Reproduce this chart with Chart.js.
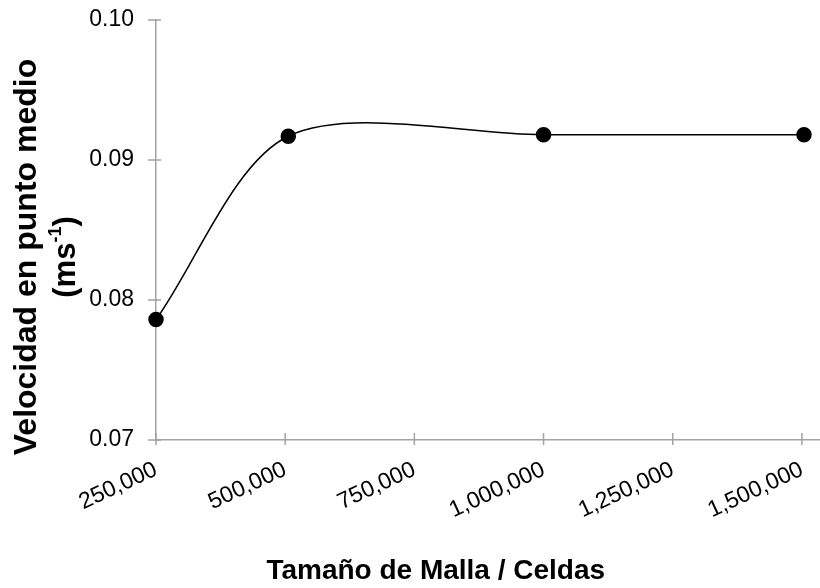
<!DOCTYPE html>
<html>
<head>
<meta charset="utf-8">
<script src="https://cdn.jsdelivr.net/npm/chart.js@4/dist/chart.umd.min.js"></script>
<style>
  html, body { margin: 0; padding: 0; background: #ffffff; overflow: hidden; }
  #wrap { width: 820px; height: 588px; overflow: hidden; }
  #chart { display: block; }
</style>
</head>
<body>
<div id="wrap"><canvas id="chart" width="828" height="588"></canvas></div>
<script>
// Mesh independence study: mid-point velocity versus mesh size
const meshSizes   = [250000, 506000, 1000000, 1504000];
const midVelocity = [0.0786, 0.0917, 0.0918, 0.0918];

const xTickValues = [250000, 500000, 750000, 1000000, 1250000, 1500000];
const yTickValues = [0.07, 0.08, 0.09, 0.10];

const xRange = [250000, 1534000];
const yRange = [0.07, 0.10];

const xTitle = 'Tamaño de Malla / Celdas';
const yTitleLine1 = 'Velocidad en punto medio';
const yTitleLine2 = ['(ms', '-1', ')'];

const FONT = '"Liberation Sans", Arial, Helvetica, sans-serif';
const AXIS_COLOR = '#a3a3a3';

// Tick marks that cross the axis lines, plus the two axis titles
const axisDecor = {
  id: 'axisDecor',
  beforeDatasetsDraw(chart) {
    const { ctx, chartArea, scales: { x, y } } = chart;
    ctx.save();
    ctx.strokeStyle = AXIS_COLOR;
    ctx.lineWidth = 1.5;
    ctx.beginPath();
    y.ticks.forEach(t => {
      const py = y.getPixelForValue(t.value);
      ctx.moveTo(chartArea.left - 8, py);
      ctx.lineTo(chartArea.left + 5, py);
    });
    x.ticks.forEach(t => {
      const px = x.getPixelForValue(t.value);
      ctx.moveTo(px, chartArea.bottom - 7);
      ctx.lineTo(px, chartArea.bottom + 5);
    });
    ctx.stroke();
    ctx.restore();
  },
  afterDraw(chart) {
    const { ctx, chartArea } = chart;
    ctx.save();
    ctx.fillStyle = '#000000';
    ctx.textBaseline = 'middle';

    // x-axis title
    ctx.font = 'bold 28px ' + FONT;
    ctx.textAlign = 'center';
    ctx.fillText(xTitle, (chartArea.left + chartArea.right) / 2 - 52, chartArea.bottom + 131);

    // y-axis title, two rotated lines
    const cy = (chartArea.top + chartArea.bottom) / 2 + 27;
    ctx.translate(chartArea.left - 129, cy);
    ctx.rotate(-Math.PI / 2);
    ctx.font = 'bold 32px ' + FONT;
    ctx.textAlign = 'center';
    ctx.fillText(yTitleLine1, 0, 0);

    ctx.textAlign = 'left';
    ctx.font = 'bold 31px ' + FONT;
    const wA = ctx.measureText(yTitleLine2[0]).width;
    const wC = ctx.measureText(yTitleLine2[2]).width;
    ctx.font = 'bold 18px ' + FONT;
    const wB = ctx.measureText(yTitleLine2[1]).width;
    let sx = -(wA + wB + wC) / 2;
    const ly = 39;
    ctx.font = 'bold 31px ' + FONT;
    ctx.fillText(yTitleLine2[0], sx, ly);
    sx += wA;
    ctx.font = 'bold 18px ' + FONT;
    ctx.fillText(yTitleLine2[1], sx, ly - 10);
    sx += wB;
    ctx.font = 'bold 31px ' + FONT;
    ctx.fillText(yTitleLine2[2], sx, ly);
    ctx.restore();
  }
};

new Chart(document.getElementById('chart'), {
  type: 'line',
  data: {
    datasets: [{
      data: meshSizes.map((m, i) => ({ x: m, y: midVelocity[i] })),
      borderColor: '#000000',
      borderWidth: 1.5,
      backgroundColor: '#000000',
      pointBackgroundColor: '#000000',
      pointBorderColor: '#000000',
      pointRadius: 7,
      pointHoverRadius: 7,
      tension: 0.3,
      fill: false,
      clip: false
    }]
  },
  options: {
    responsive: false,
    animation: false,
    devicePixelRatio: 1,
    layout: { padding: { top: 20, right: 0, bottom: 0, left: 0 } },
    plugins: {
      legend: { display: false },
      tooltip: { enabled: false },
      title: { display: false }
    },
    scales: {
      x: {
        type: 'linear',
        min: xRange[0],
        max: xRange[1],
        afterBuildTicks: s => { s.ticks = xTickValues.map(v => ({ value: v })); },
        afterFit: s => { s.height = 148; s.paddingLeft = 0; s.paddingRight = 0; },
        grid: { display: true, drawOnChartArea: false, drawTicks: false },
        border: { display: true, color: AXIS_COLOR, width: 1.5 },
        ticks: {
          autoSkip: false,
          minRotation: 25,
          maxRotation: 25,
          padding: 16,
          color: '#000000',
          font: { family: FONT, size: 23 },
          callback: v => Number(v).toLocaleString('en-US')
        }
      },
      y: {
        type: 'linear',
        min: yRange[0],
        max: yRange[1],
        afterBuildTicks: s => { s.ticks = yTickValues.map(v => ({ value: v })); },
        afterFit: s => { s.width = 156; s.paddingTop = 0; s.paddingBottom = 0; },
        grid: { display: true, drawOnChartArea: false, drawTicks: false },
        border: { display: true, color: AXIS_COLOR, width: 1.5 },
        ticks: {
          padding: 22,
          color: '#000000',
          font: { family: FONT, size: 23 },
          callback: v => Number(v).toFixed(2)
        }
      }
    }
  },
  plugins: [axisDecor]
});
</script>
</body>
</html>
